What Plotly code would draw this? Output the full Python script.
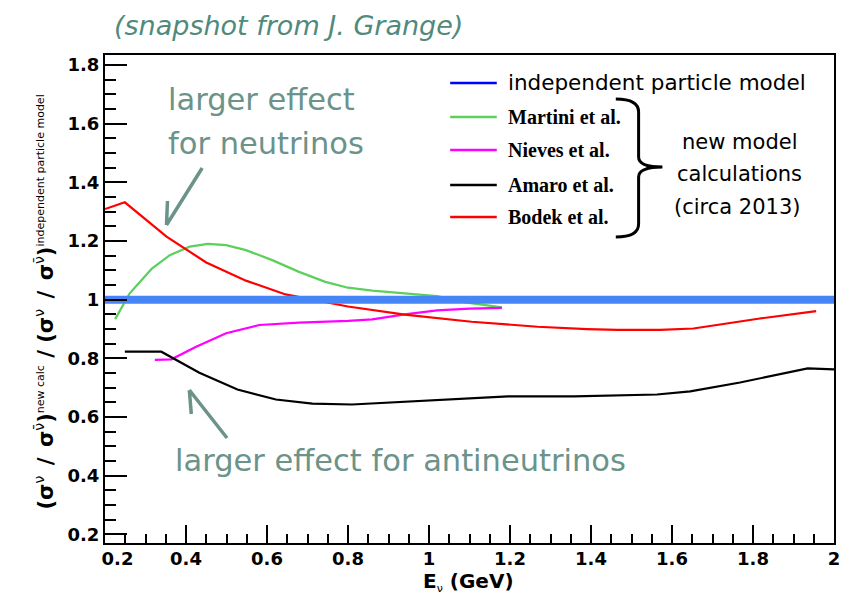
import plotly.graph_objects as go

# ---- data: cross-section ratio vs neutrino energy ----
x_martini = [0.225, 0.261, 0.315, 0.36, 0.409, 0.454, 0.499, 0.548, 0.613, 0.679,
             0.744, 0.80, 0.86, 0.94, 1.02, 1.09, 1.18]
y_martini = [0.934, 1.022, 1.105, 1.152, 1.181, 1.19, 1.186, 1.169, 1.135, 1.095,
             1.061, 1.041, 1.031, 1.022, 1.012, 0.991, 0.974]

x_nieves = [0.323, 0.364, 0.425, 0.499, 0.581, 0.679, 0.80, 0.86, 0.94, 1.02, 1.10, 1.18]
y_nieves = [0.795, 0.797, 0.84, 0.886, 0.914, 0.922, 0.928, 0.933, 0.95, 0.964, 0.97, 0.972]

x_amaro = [0.249, 0.339, 0.433, 0.527, 0.622, 0.712, 0.81, 0.924, 1.07, 1.195,
           1.358, 1.563, 1.645, 1.768, 1.935, 2.0]
y_amaro = [0.823, 0.823, 0.751, 0.694, 0.66, 0.646, 0.643, 0.652, 0.661, 0.671,
           0.671, 0.677, 0.688, 0.718, 0.766, 0.763]

x_bodek = [0.2, 0.249, 0.352, 0.45, 0.548, 0.646, 0.80, 0.94, 1.105, 1.268,
           1.39, 1.465, 1.571, 1.653, 1.735, 1.817, 1.956]
y_bodek = [1.309, 1.332, 1.215, 1.127, 1.065, 1.018, 0.977, 0.949, 0.925, 0.908,
           0.90, 0.897, 0.897, 0.902, 0.919, 0.936, 0.961]

x_ipm = [0.2, 2.0]
y_ipm = [1.0, 1.0]

model_names = ["Martini et al.", "Nieves et al.", "Amaro et al.", "Bodek et al."]
model_colors = ["#5ccf5c", "#ff00ff", "#000000", "#ff0000"]
model_x = [x_martini, x_nieves, x_amaro, x_bodek]
model_y = [y_martini, y_nieves, y_amaro, y_bodek]

x_tickvals = [0.2, 0.4, 0.6, 0.8, 1.0, 1.2, 1.4, 1.6, 1.8, 2.0]
x_ticktext = ["\u2007\u20070.2", "0.4", "0.6", "0.8", "1", "1.2", "1.4", "1.6", "1.8", "2"]
y_tickvals = [0.2, 0.4, 0.6, 0.8, 1.0, 1.2, 1.4, 1.6, 1.8]
y_ticktext = ["0.2", "0.4", "0.6", "0.8", "1", "1.2", "1.4", "1.6", "1.8"]

# ---- figure geometry (pixels) ----
W, H = 850, 596
L, R, T, B = 105, 10, 55, 53
PW, PH = W - L - R, H - T - B


def px(xp, yp):
    """Pixel position -> paper coordinates (for decorations)."""
    return (xp - L) / PW, (H - B - yp) / PH


def path(points_cmds):
    out = []
    for cmd, pts in points_cmds:
        coords = " ".join("%.5f,%.5f" % px(*p) for p in pts)
        out.append(cmd + " " + coords)
    return " ".join(out)


fig = go.Figure()

for name, color, xs, ys in zip(model_names, model_colors, model_x, model_y):
    fig.add_trace(go.Scatter(x=xs, y=ys, mode="lines", name=name,
                             line=dict(color=color, width=2.2), showlegend=False))

# independent particle model reference, drawn on top as a thick band
fig.add_trace(go.Scatter(x=x_ipm, y=y_ipm, mode="lines", name="independent particle model",
                         line=dict(color="#4585f5", width=8), showlegend=False))

teal = "#4f8a7d"
teal2 = "#6b938a"
sans = "DejaVu Sans"
shapes = []
annotations = []

# legend rows
legend_rows = [("independent particle model", "#0000ff")] + list(zip(model_names, model_colors))
row_y = [83, 117, 150, 185, 217]
for (label, color), yy in zip(legend_rows, row_y):
    x0, y0 = px(453, yy)
    x1, _ = px(500, yy)
    shapes.append(dict(type="line", xref="paper", yref="paper", x0=x0, x1=x1, y0=y0, y1=y0,
                       line=dict(color=color, width=2.5)))
    tx, ty = px(509, yy)
    if label == "independent particle model":
        font = dict(family=sans, size=21.5, color="black")
    else:
        font = dict(family="Liberation Serif", size=20, color="black", weight="bold")
    annotations.append(dict(xref="paper", yref="paper", x=tx, y=ty, xanchor="left",
                            yanchor="middle", text=label, showarrow=False, font=font))

# curly brace grouping the new calculations
brace = path([
    ("M", [(620, 99)]),
    ("Q", [(643, 99), (643, 112)]),
    ("L", [(643, 157)]),
    ("Q", [(643, 167), (667, 167)]),
    ("Q", [(643, 167), (643, 177)]),
    ("L", [(643, 224)]),
    ("Q", [(643, 237), (620, 237)]),
])
shapes.append(dict(type="path", xref="paper", yref="paper", path=brace,
                   line=dict(color="black", width=3)))
for txt, xx, yy in [("new model", 745, 142), ("calculations", 745, 174), ("(circa 2013)", 742, 207)]:
    ax_, ay_ = px(xx, yy)
    annotations.append(dict(xref="paper", yref="paper", x=ax_, y=ay_, text=txt, showarrow=False,
                            xanchor="center", yanchor="middle",
                            font=dict(family=sans, size=21, color="black")))

# pointer arrows
arrow1 = path([("M", [(203, 168)]), ("L", [(167, 225)]),
               ("M", [(168, 201)]), ("L", [(167, 225), (188, 213)])])
arrow2 = path([("M", [(228, 438)]), ("L", [(190, 390)]),
               ("M", [(192, 414)]), ("L", [(190, 390), (211, 401)])])
for p in (arrow1, arrow2):
    shapes.append(dict(type="path", xref="paper", yref="paper", path=p,
                       line=dict(color=teal2, width=3.5)))

# commentary text
for txt, xx, yy, size, italic, color in [
    ("(snapshot from J. Grange)", 112, 25, 27, True, teal),
    ("larger effect", 167, 100, 30.5, False, teal2),
    ("for neutrinos", 167, 144, 30.5, False, teal2),
    ("larger effect for antineutrinos", 174, 460, 30.5, False, teal2),
]:
    ax_, ay_ = px(xx, yy)
    annotations.append(dict(xref="paper", yref="paper", x=ax_, y=ay_, text=txt, showarrow=False,
                            xanchor="left", yanchor="middle",
                            font=dict(family=sans, size=size, color=color,
                                      style="italic" if italic else "normal")))

# axis titles
small = '<span style="font-weight:normal;font-size:11px">%s</span>'
nu = '<sup><span style="font-weight:normal;font-size:14px">ν</span></sup>'
nubar = '<sup><span style="font-weight:normal;font-size:14px">ν̄</span></sup>'
sep = "\u2002/\u2002"
ytitle = ("(σ" + nu + sep + "σ" + nubar + ")<sup>" + small % "new calc" + "</sup>"
          + " / (σ" + nu + sep + "σ" + nubar + ")<sup>" + small % "independent particle model" + "</sup>")
tx, ty = px(44, 302)
annotations.append(dict(xref="paper", yref="paper", x=tx, y=ty, text=ytitle, textangle=-90,
                        showarrow=False, xanchor="center", yanchor="middle",
                        font=dict(family=sans, size=21, color="black", weight="bold")))
tx, ty = px(471, 582)
annotations.append(dict(xref="paper", yref="paper", x=tx, y=ty,
                        text="E<sub><span style='font-weight:normal;font-size:11px'>ν</span></sub> (GeV)",
                        showarrow=False, xanchor="center", yanchor="middle",
                        font=dict(family=sans, size=20, color="black", weight="bold")))

axis_common = dict(showline=True, linecolor="black", linewidth=2, mirror=True,
                   showgrid=False, zeroline=False, ticks="inside", tickcolor="black",
                   tickwidth=1.5,
                   tickfont=dict(family=sans, size=18, color="black", weight="bold"))

fig.update_layout(
    width=W, height=H,
    margin=dict(l=L, r=R, t=T, b=B),
    paper_bgcolor="white", plot_bgcolor="white",
    showlegend=False,
    shapes=shapes, annotations=annotations,
    xaxis=dict(range=[0.2, 2.0], tickvals=x_tickvals, ticktext=x_ticktext, ticklen=18,
               ticklabelstandoff=-2,
               minor=dict(ticks="inside", dtick=0.05, ticklen=9, tickcolor="black", tickwidth=1.5,
                          showgrid=False),
               **axis_common),
    yaxis=dict(range=[0.171, 1.834], tickvals=y_tickvals, ticktext=y_ticktext, ticklen=22,
               minor=dict(ticks="inside", dtick=0.05, ticklen=11, tickcolor="black", tickwidth=1.5,
                          showgrid=False),
               **axis_common),
)

fig.write_html("out.html")
